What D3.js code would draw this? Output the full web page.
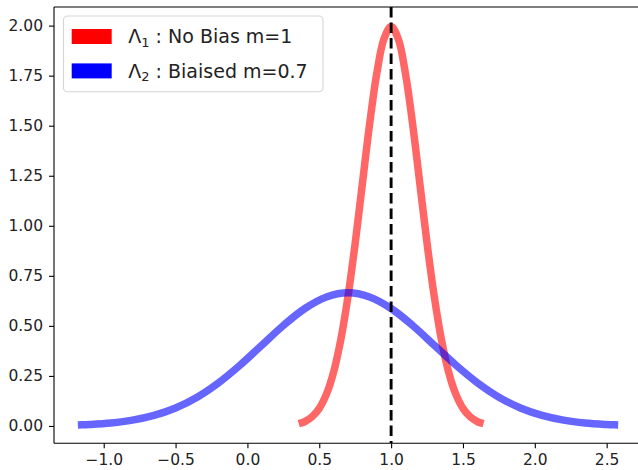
<!DOCTYPE html>
<html>
<head>
<meta charset="utf-8">
<script src="https://cdn.jsdelivr.net/npm/d3@7"></script>
<style>
  html, body { margin: 0; padding: 0; background: #fff; }
  svg { display: block; font-family: "DejaVu Sans", sans-serif; }
</style>
</head>
<body>
<div id="chart"></div>
<script>
// ---- data ----
const redX = [0.382, 0.40, 0.45, 0.50, 0.55, 0.60, 0.65, 0.70, 0.75, 0.80, 0.85, 0.90, 0.95, 1.00,
              1.05, 1.10, 1.15, 1.20, 1.25, 1.30, 1.35, 1.40, 1.45, 1.50, 1.55, 1.60, 1.618];
const redY = [0.017, 0.022, 0.046, 0.088, 0.159, 0.270, 0.432, 0.648, 0.913, 1.210, 1.506, 1.760, 1.933, 1.995,
              1.933, 1.760, 1.506, 1.210, 0.913, 0.648, 0.432, 0.270, 0.159, 0.088, 0.046, 0.022, 0.017];
const blueX = [-1.154, -1.10, -0.95, -0.80, -0.65, -0.50, -0.35, -0.20, -0.05, 0.10, 0.25, 0.40, 0.55, 0.70,
               0.85, 1.00, 1.15, 1.30, 1.45, 1.60, 1.75, 1.90, 2.05, 2.20, 2.35, 2.50, 2.554];
const blueY = [0.0056, 0.0074, 0.0151, 0.0292, 0.0529, 0.0900, 0.1438, 0.2159, 0.3044, 0.4033, 0.5019, 0.5868, 0.6444, 0.6649,
               0.6444, 0.5868, 0.5019, 0.4033, 0.3044, 0.2159, 0.1438, 0.0900, 0.0529, 0.0292, 0.0151, 0.0074, 0.0056];
const vlineX = 1.0;
const xTicks = [-1.0, -0.5, 0.0, 0.5, 1.0, 1.5, 2.0, 2.5];
const yTicks = [0.00, 0.25, 0.50, 0.75, 1.00, 1.25, 1.50, 1.75, 2.00];
const legendLabels = [
  { sym: "Λ", sub: "1", text: " : No Bias m=1", color: "#ff0000" },
  { sym: "Λ", sub: "2", text: " : Biaised m=0.7", color: "#0000ff" }
];

// ---- layout ----
const W = 638, H = 470;
const plot = { left: 54, right: 640, top: 7, bottom: 443.3 };

const x = d3.scaleLinear().domain([-1.346, 2.732]).range([plot.left, plot.right]);
const y = d3.scaleLinear().domain([-0.0866, 2.093]).range([plot.bottom, plot.top]);

const svg = d3.select("#chart").append("svg").attr("width", W).attr("height", H);

const line = d3.line().x(d => x(d[0])).y(d => y(d[1])).curve(d3.curveCatmullRom.alpha(0.5));
const redData = redX.map((v, i) => [v, redY[i]]);
const blueData = blueX.map((v, i) => [v, blueY[i]]);

const clip = svg.append("clipPath").attr("id", "clip").append("rect")
  .attr("x", plot.left).attr("y", plot.top)
  .attr("width", plot.right - plot.left).attr("height", plot.bottom - plot.top);

const g = svg.append("g").attr("clip-path", "url(#clip)");
g.append("path").datum(redData).attr("d", line)
  .attr("fill", "none").attr("stroke", "#ff0000").attr("stroke-opacity", 0.6)
  .attr("stroke-width", 7.5).attr("stroke-linecap", "square").attr("stroke-linejoin", "round");
g.append("path").datum(blueData).attr("d", line)
  .attr("fill", "none").attr("stroke", "#0000ff").attr("stroke-opacity", 0.6)
  .attr("stroke-width", 7.5).attr("stroke-linecap", "square").attr("stroke-linejoin", "round");
g.append("line")
  .attr("x1", x(vlineX)).attr("x2", x(vlineX))
  .attr("y1", plot.top).attr("y2", plot.bottom)
  .attr("stroke", "#000").attr("stroke-width", 2.9).attr("stroke-dasharray", "10.5,5");

// ---- axes ----
const fmtX = d => d3.format(".1f")(d).replace("-", "\u2212");
const xAxis = d3.axisBottom(x).tickValues(xTicks).tickFormat(fmtX).tickSize(5).tickPadding(6);
const yAxis = d3.axisLeft(y).tickValues(yTicks).tickFormat(d3.format(".2f")).tickSize(5).tickPadding(6);

const gx = svg.append("g").attr("transform", `translate(0,${plot.bottom})`).call(xAxis);
const gy = svg.append("g").attr("transform", `translate(${plot.left},0)`).call(yAxis);
[gx, gy].forEach(a => {
  a.select(".domain").remove();
  a.selectAll(".tick line").attr("stroke", "#000").attr("stroke-width", 1.1);
  a.selectAll(".tick text").attr("fill", "#222").style("font-size", "15.5px")
    .style("font-family", "'DejaVu Sans', sans-serif");
});
gx.selectAll(".tick text").attr("dy", "0.71em");

// spines
svg.append("line").attr("x1", plot.left).attr("x2", plot.left).attr("y1", plot.top).attr("y2", plot.bottom)
  .attr("stroke", "#000").attr("stroke-width", 1.1);
svg.append("line").attr("x1", plot.left).attr("x2", plot.right).attr("y1", plot.bottom).attr("y2", plot.bottom)
  .attr("stroke", "#000").attr("stroke-width", 1.1);
svg.append("line").attr("x1", plot.left).attr("x2", plot.right).attr("y1", plot.top).attr("y2", plot.top)
  .attr("stroke", "#000").attr("stroke-width", 1.1);

// ---- legend ----
const lg = svg.append("g");
lg.append("rect").attr("x", 63.5).attr("y", 16).attr("width", 259.5).attr("height", 75.7)
  .attr("rx", 4).attr("ry", 4).attr("fill", "#fff").attr("fill-opacity", 0.8)
  .attr("stroke", "#d5d5d5").attr("stroke-width", 1.1);
const rowY = [43.3, 77.7];
legendLabels.forEach((d, i) => {
  lg.append("rect").attr("x", 71.7).attr("y", rowY[i] - 14.3).attr("width", 40).attr("height", 15)
    .attr("fill", d.color);
  const t = lg.append("text").attr("x", 128.3).attr("y", rowY[i]).attr("fill", "#222")
    .style("font-size", "19px");
  t.append("tspan").text(d.sym);
  t.append("tspan").attr("dy", 3.4).style("font-size", "13px").text(d.sub);
  t.append("tspan").attr("dy", -3.4).text(d.text);
});
</script>
</body>
</html>
